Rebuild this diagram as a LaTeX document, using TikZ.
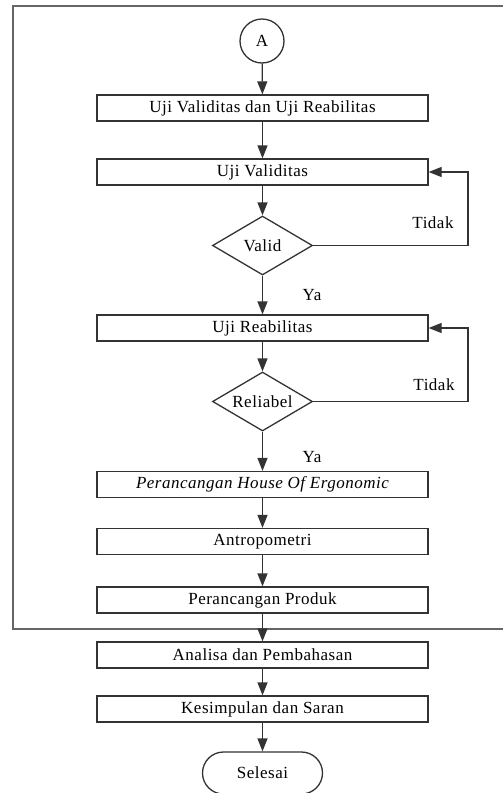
\documentclass[tikz,border=0pt]{standalone}
\usepackage{fontspec}
\setmainfont{Liberation Serif}[LetterSpace=3]
\usetikzlibrary{arrows.meta,shapes.geometric}
\tikzset{
  ln/.style={draw=black!80, line width=1.3pt},
  txt/.style={font=\fontsize{17pt}{19pt}\selectfont},
  procbox/.style={ln, txt, rectangle, minimum width=331pt, minimum height=26pt, inner sep=0pt},
  decbox/.style={ln, txt, diamond, shape aspect=1.7, minimum width=100pt, minimum height=59pt, inner sep=0pt},
  conn/.style={ln, -{Triangle[length=13pt,width=10pt]}},
  lbl/.style={txt, inner sep=0pt},
}
\begin{document}
\begin{tikzpicture}[x=1pt,y=-1pt]
\useasboundingbox (0,0) rectangle (503,793);
% frame
\draw[draw=black!60, line width=2pt] (515,6) -- (13,6) -- (13,629) -- (515,629);
% nodes
\node[ln, txt, circle, minimum size=44pt, inner sep=0pt] (A) at (262,41) {A};
\node[procbox] (b1) at (262.5,108) {Uji Validitas dan Uji Reabilitas};
\node[procbox] (b2) at (262.5,172) {Uji Validitas};
\node[decbox] (d1) at (262.5,245.5) {Valid};
\node[procbox] (b3) at (262.5,328) {Uji Reabilitas};
\node[decbox] (d2) at (262.5,401.5) {Reliabel};
\node[procbox] (b4) at (262.5,484.5) {\itshape Perancangan House Of Ergonomic};
\node[procbox] (b5) at (262.5,541.5) {Antropometri};
\node[procbox] (b6) at (262.5,600) {Perancangan Produk};
\node[procbox] (b7) at (262.5,655) {Analisa dan Pembahasan};
\node[procbox] (b8) at (262.5,709) {Kesimpulan dan Saran};
\node[ln, txt, rectangle, rounded corners=21pt, minimum width=120pt, minimum height=42pt, inner sep=0pt] (end) at (262.5,773) {Selesai};
% labels
\node[lbl] (t1) at (433,223) {Tidak};
\node[lbl] (y1) at (312,295) {Ya};
\node[lbl] (t2) at (434,385) {Tidak};
\node[lbl] (y2) at (312,457) {Ya};
% feedback corners
\coordinate (c1) at (468,245.5);
\coordinate (c2) at (468,172);
\coordinate (c3) at (468,401.5);
\coordinate (c4) at (468,328);
% connectors
\draw[conn] (A) -- (b1);
\draw[conn] (b1) -- (b2);
\draw[conn] (b2) -- (d1);
\draw[conn] (d1) -- (b3);
\draw[conn] (b3) -- (d2);
\draw[conn] (d2) -- (b4);
\draw[conn] (b4) -- (b5);
\draw[conn] (b5) -- (b6);
\draw[conn] (b6) -- (b7);
\draw[conn] (b7) -- (b8);
\draw[conn] (b8) -- (end);
\draw[conn] (d1.east) -- (c1) -- (c2) -- (b2.east);
\draw[conn] (d2.east) -- (c3) -- (c4) -- (b3.east);
\end{tikzpicture}
\end{document}
